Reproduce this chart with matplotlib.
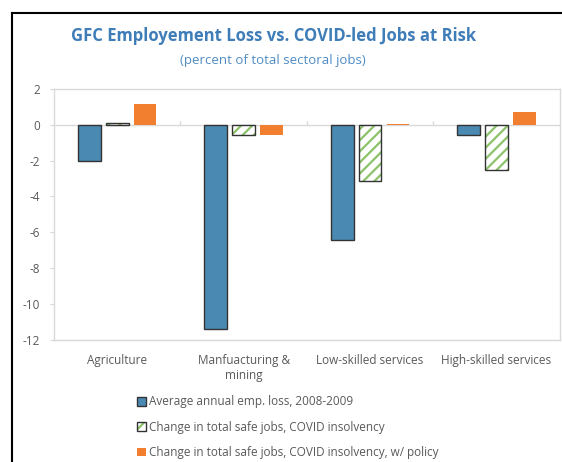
import matplotlib
matplotlib.use("Agg")
import matplotlib.pyplot as plt
import numpy as np
from matplotlib.patches import Patch
from matplotlib.legend_handler import HandlerTuple

plt.rcParams["font.family"] = ["Open Sans", "DejaVu Sans"]
plt.rcParams["hatch.linewidth"] = 1.6

categories = ["Agriculture", "Manfuacturing &\nmining", "Low-skilled services", "High-skilled services"]
gfc_loss = [-2.0, -11.4, -6.4, -0.6]
covid_insolvency = [0.1, -0.6, -3.15, -2.55]
covid_policy = [1.15, -0.6, 0.05, 0.72]
series_labels = [
    "Average annual emp. loss, 2008-2009",
    "Change in total safe jobs, COVID insolvency",
    "Change in total safe jobs, COVID insolvency, w/ policy",
]
yticks = [2, 0, -2, -4, -6, -8, -10, -12]

blue = "#4A89B2"
green = "#8CC26A"
orange = "#F27E2F"
edge = "#333333"
grey_text = "#595959"

fig = plt.figure(figsize=(5.62, 4.62), dpi=100)
ax = fig.add_axes([0.096, 0.264, 0.9, 0.544])

x = np.arange(len(categories))
step = 0.22
width = 0.18

ax.bar(x - step, gfc_loss, width, color=blue, edgecolor=edge, linewidth=1.0, zorder=3)
ax.bar(x, covid_insolvency, width, color="white", edgecolor=green, hatch="///", linewidth=0, zorder=3)
ax.bar(x, covid_insolvency, width, fill=False, edgecolor=edge, linewidth=1.0, zorder=4)
ax.bar(x + step, covid_policy, width, color=orange, linewidth=0, zorder=3)

ax.axhline(0, color="#d9d9d9", linewidth=1.0, zorder=2)
ax.vlines([0.5, 1.5, 2.5], 0, 0.2, color="#d9d9d9", linewidth=1.0, zorder=2)

ax.set_xlim(-0.5, len(categories) - 0.5)
ax.set_ylim(-12, 2)
ax.set_yticks(yticks)
ax.set_yticklabels([str(t) for t in yticks])
ax.set_xticks(x)
ax.set_xticklabels(categories, linespacing=1.2)
ax.tick_params(axis="x", length=0, pad=10, labelsize=8.5, colors=grey_text)
ax.tick_params(axis="y", length=3, width=0.8, color="#d9d9d9", pad=7, labelsize=8.5, colors=grey_text)
for spine in ax.spines.values():
    spine.set_color("#d9d9d9")
    spine.set_linewidth(1.0)

fig.text(0.486, 0.922, "GFC Employement Loss vs. COVID-led Jobs at Risk",
         ha="center", va="center", fontsize=12, fontweight="bold", color="#3F7DB8")
fig.text(0.486, 0.868, "(percent of total sectoral jobs)",
         ha="center", va="center", fontsize=9.5, color="#4F8CC4")

# outer frame (left and top edges visible)
fig.add_artist(plt.Line2D([0.022, 0.022], [0, 0.972], color="black", linewidth=1.5))
fig.add_artist(plt.Line2D([0.022, 1.0], [0.972, 0.972], color="black", linewidth=1.5))

h_blue = Patch(facecolor=blue, edgecolor=edge, linewidth=1.0)
h_green = (Patch(facecolor="white", edgecolor=green, hatch="///", linewidth=0),
           Patch(fill=False, edgecolor=edge, linewidth=1.0))
h_orange = Patch(facecolor=orange, linewidth=0)
fig.legend([h_blue, h_green, h_orange], series_labels,
           handler_map={tuple: HandlerTuple(ndivide=1, pad=0)},
           loc="upper left", bbox_to_anchor=(0.234, 0.157), frameon=False,
           fontsize=8.5, labelcolor=grey_text, handlelength=0.75, handleheight=0.75,
           handletextpad=0.2, labelspacing=1.05, borderpad=0)

fig.savefig("out.png", dpi=100)
